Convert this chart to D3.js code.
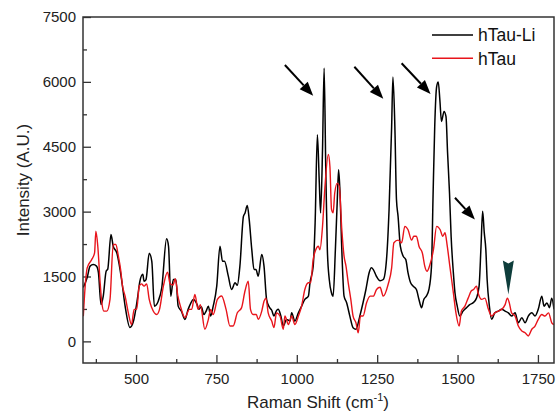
<!DOCTYPE html>
<html>
<head>
<meta charset="utf-8">
<script src="https://cdn.jsdelivr.net/npm/d3@7"></script>
<style>
  body { margin: 0; background: #fff; }
  svg { font-family: "Liberation Sans", Arial, sans-serif; }
</style>
</head>
<body>
<svg width="556" height="414"></svg>
<script>
// Raman shift (cm-1) and intensity for hTau-Li (black)
const liShift = [336,348,357,367,377,383,391,398,407,412,422,429,440,455,466,481,491,504,512,521,525,531,541,549,557,569,580,595,601,608,616,624,631,641,652,662,670,678,690,695,703,711,718,725,732,740,751,761,769,775,787,797,808,815,823,834,839,846,852,860,867,873,880,891,898,906,915,922,929,936,942,950,958,968,979,984,994,1005,1015,1025,1036,1041,1051,1057,1064,1070,1074,1080,1085,1090,1095,1101,1108,1113,1120,1126,1130,1134,1140,1147,1155,1165,1175,1184,1196,1206,1215,1225,1232,1238,1248,1259,1269,1279,1287,1295,1299,1305,1310,1315,1322,1331,1339,1346,1354,1362,1372,1380,1388,1395,1403,1411,1419,1424,1429,1435,1440,1445,1450,1458,1464,1469,1475,1480,1487,1492,1499,1507,1517,1528,1538,1548,1559,1567,1573,1578,1583,1588,1592,1599,1606,1616,1627,1637,1648,1658,1668,1679,1689,1700,1710,1720,1731,1741,1751,1762,1769,1778,1786,1793,1800];
const liIntensity = [1246,1477,1740,1775,1740,1590,850,1046,1623,1670,2470,2200,2050,1430,815,320,440,970,1390,1550,1390,1430,2040,1850,815,930,1240,2370,2200,1046,1430,1430,815,700,508,740,880,970,850,740,800,620,700,815,585,815,1277,2200,1850,1850,1508,1200,1354,1300,1740,2890,2970,3140,2815,2120,1660,1660,1508,2010,1740,970,785,720,585,700,740,600,355,508,470,660,470,660,815,970,1046,1354,1740,2740,4780,3670,2970,4430,6320,4045,2120,1430,1120,1046,2120,3280,3970,3510,2120,1046,893,585,315,280,585,893,1200,1585,1700,1660,1500,1400,1430,1890,3050,4970,6110,4970,3280,2890,2200,1970,1890,1585,1354,1277,1200,970,780,970,1046,1200,1740,3430,4970,5890,6000,5580,5085,5316,5200,4355,3430,2430,1585,1120,815,585,700,780,850,890,1000,1277,2200,3010,2520,2120,1430,815,510,660,700,740,700,660,585,660,430,545,430,585,660,585,740,1046,815,890,780,1000,740];

// Raman shift (cm-1) and intensity for hTau (red)
const tauShift = [336,341,348,362,371,375,381,388,393,400,409,419,429,437,445,452,458,466,476,486,494,502,510,517,525,533,541,549,564,573,585,598,606,615,622,630,638,652,666,673,683,693,700,714,725,732,740,753,766,780,792,802,815,828,839,849,856,864,874,880,891,898,904,911,922,929,937,948,958,963,974,984,994,1005,1015,1025,1036,1043,1051,1059,1067,1072,1080,1087,1098,1103,1108,1113,1118,1126,1132,1140,1147,1153,1160,1168,1175,1184,1191,1198,1206,1217,1228,1238,1248,1259,1269,1284,1295,1302,1315,1326,1336,1346,1357,1364,1372,1380,1391,1398,1405,1414,1425,1435,1446,1454,1461,1468,1476,1487,1495,1505,1512,1523,1533,1543,1550,1559,1564,1575,1585,1596,1606,1616,1627,1637,1648,1655,1661,1668,1679,1689,1700,1710,1720,1731,1741,1751,1762,1772,1783,1793,1800];
const tauIntensity = [580,1200,1700,1890,2045,2545,2200,1390,930,700,700,970,2240,2240,1970,1660,1277,1046,660,390,740,740,1277,1330,1277,1330,970,775,620,740,1277,1600,1330,1300,1450,1050,815,550,740,740,1085,740,850,280,510,740,620,970,1050,740,355,355,660,775,1170,1390,740,620,620,510,700,930,1000,660,470,320,660,580,280,585,390,585,390,585,815,1200,1354,1354,1890,2120,2200,2120,2660,3510,4320,4045,3050,2970,3430,3660,3590,2585,1970,1740,1354,970,585,430,200,585,585,893,1046,1046,1200,1250,1046,1315,1700,2280,2340,2280,2660,2580,2340,2430,2430,2200,2030,1740,1620,1770,2120,2660,2580,2430,2510,2200,1740,1120,660,355,700,815,1000,1170,1200,1277,1120,970,1000,740,585,660,700,740,850,1000,890,660,585,355,240,200,125,280,355,510,620,585,660,430,390];

const xTicks = [500, 750, 1000, 1250, 1500, 1750];
const xMinorTicks = [375, 625, 875, 1125, 1375, 1625];
const yTicks = [0, 1500, 3000, 4500, 6000, 7500];
const yMinorTicks = [750, 2250, 3750, 5250, 6750];

// peak arrows: [fromShift, fromIntensity, toShift, toIntensity]
const peakArrows = [
  [963, 6390, 1051, 5680],
  [1179, 6350, 1269, 5610],
  [1326, 6430, 1416, 5720],
  [1492, 3320, 1554, 2820]
];
// teal marker over the hTau band
const markerShift = 1658;
const markerTop = 1870, markerTip = 1085;

const seriesNames = ["hTau-Li", "hTau"];
const seriesColors = ["#000000", "#e8141b"];

const margin = { top: 17, right: 2, bottom: 51, left: 83 },
    width = 556 - margin.left - margin.right,
    height = 414 - margin.top - margin.bottom;

const svg = d3.select("svg");
const g = svg.append("g")
    .attr("transform", `translate(${margin.left},${margin.top})`);

const x = d3.scaleLinear().domain([335, 1800]).range([0, width]);
const y = d3.scaleLinear().domain([-500, 7500]).range([height, 0]);

// axes (ticks pointing inward)
g.append("g")
    .attr("transform", `translate(0,${height})`)
    .call(d3.axisBottom(x).tickValues(xTicks).tickFormat(d3.format("d"))
        .tickSize(-8).tickSizeOuter(0).tickPadding(10));
g.append("g")
    .attr("transform", `translate(0,${height})`)
    .call(d3.axisBottom(x).tickValues(xMinorTicks).tickSize(-4).tickSizeOuter(0).tickFormat(""));
g.append("g")
    .call(d3.axisLeft(y).tickValues(yTicks).tickFormat(d3.format("d"))
        .tickSize(-8).tickSizeOuter(0).tickPadding(7));
g.append("g")
    .call(d3.axisLeft(y).tickValues(yMinorTicks).tickSize(-4).tickSizeOuter(0).tickFormat(""));

g.selectAll(".domain").remove();
g.selectAll(".tick line").attr("stroke", "#333").attr("stroke-width", 1.3);
g.selectAll(".tick text")
    .attr("font-size", 15)
    .attr("font-family", "Liberation Sans, Arial, sans-serif")
    .attr("fill", "#222");

g.append("clipPath").attr("id", "clip")
  .append("rect").attr("width", width).attr("height", height);

const line = d3.line()
    .x(d => x(d[0]))
    .y(d => y(d[1]))
    .curve(d3.curveMonotoneX);

const liData = liShift.map((s, i) => [s, liIntensity[i]]);
const tauData = tauShift.map((s, i) => [s, tauIntensity[i]]);

const plot = g.append("g").attr("clip-path", "url(#clip)");
plot.append("path")
    .datum(liData)
    .attr("fill", "none")
    .attr("stroke", seriesColors[0])
    .attr("stroke-width", 1.5)
    .attr("d", line);
plot.append("path")
    .datum(tauData)
    .attr("fill", "none")
    .attr("stroke", seriesColors[1])
    .attr("stroke-width", 1.4)
    .attr("d", line);

// frame
g.append("rect")
    .attr("width", width)
    .attr("height", height)
    .attr("fill", "none")
    .attr("stroke", "#333")
    .attr("stroke-width", 1.5);

// arrows
peakArrows.forEach(a => {
    const x1 = x(a[0]), y1 = y(a[1]), x2 = x(a[2]), y2 = y(a[3]);
    const ang = Math.atan2(y2 - y1, x2 - x1);
    const len = 14, half = 5.5;
    const bx = x2 - len * Math.cos(ang), by = y2 - len * Math.sin(ang);
    g.append("line")
        .attr("x1", x1).attr("y1", y1).attr("x2", bx).attr("y2", by)
        .attr("stroke", "#000").attr("stroke-width", 2);
    const p = [
        [x2, y2],
        [bx + half * Math.sin(ang), by - half * Math.cos(ang)],
        [bx - half * Math.sin(ang), by + half * Math.cos(ang)]
    ];
    g.append("path").attr("d", "M" + p.join("L") + "Z").attr("fill", "#000");
});

// teal marker
const mx = x(markerShift), mt = y(markerTop), mb = y(markerTip);
g.append("path")
    .attr("d", `M${mx - 5.5},${mt} L${mx},${mt + 3} L${mx + 5.5},${mt} L${mx},${mb} Z`)
    .attr("fill", "#0e3d3b");

// legend
const legend = g.append("g");
seriesNames.forEach((name, i) => {
    const ly = 18 + i * 23.3;
    legend.append("line")
        .attr("x1", 349).attr("x2", 390)
        .attr("y1", ly).attr("y2", ly)
        .attr("stroke", seriesColors[i]).attr("stroke-width", 1.5);
    legend.append("text")
        .attr("x", 395).attr("y", ly)
        .attr("dy", "0.36em")
        .attr("font-size", 17.5)
        .attr("fill", "#111")
        .text(name);
});

// axis titles
svg.append("text")
    .attr("transform", "translate(29,180) rotate(-90)")
    .attr("text-anchor", "middle")
    .attr("font-size", 17)
    .attr("fill", "#222")
    .text("Intensity (A.U.)");

const xt = svg.append("text")
    .attr("x", 318).attr("y", 408)
    .attr("text-anchor", "middle")
    .attr("font-size", 17)
    .attr("fill", "#222");
xt.append("tspan").text("Raman Shift (cm");
xt.append("tspan").attr("dy", -7).attr("font-size", 11).text("-1");
xt.append("tspan").attr("dy", 7).text(")");
</script>
</body>
</html>
